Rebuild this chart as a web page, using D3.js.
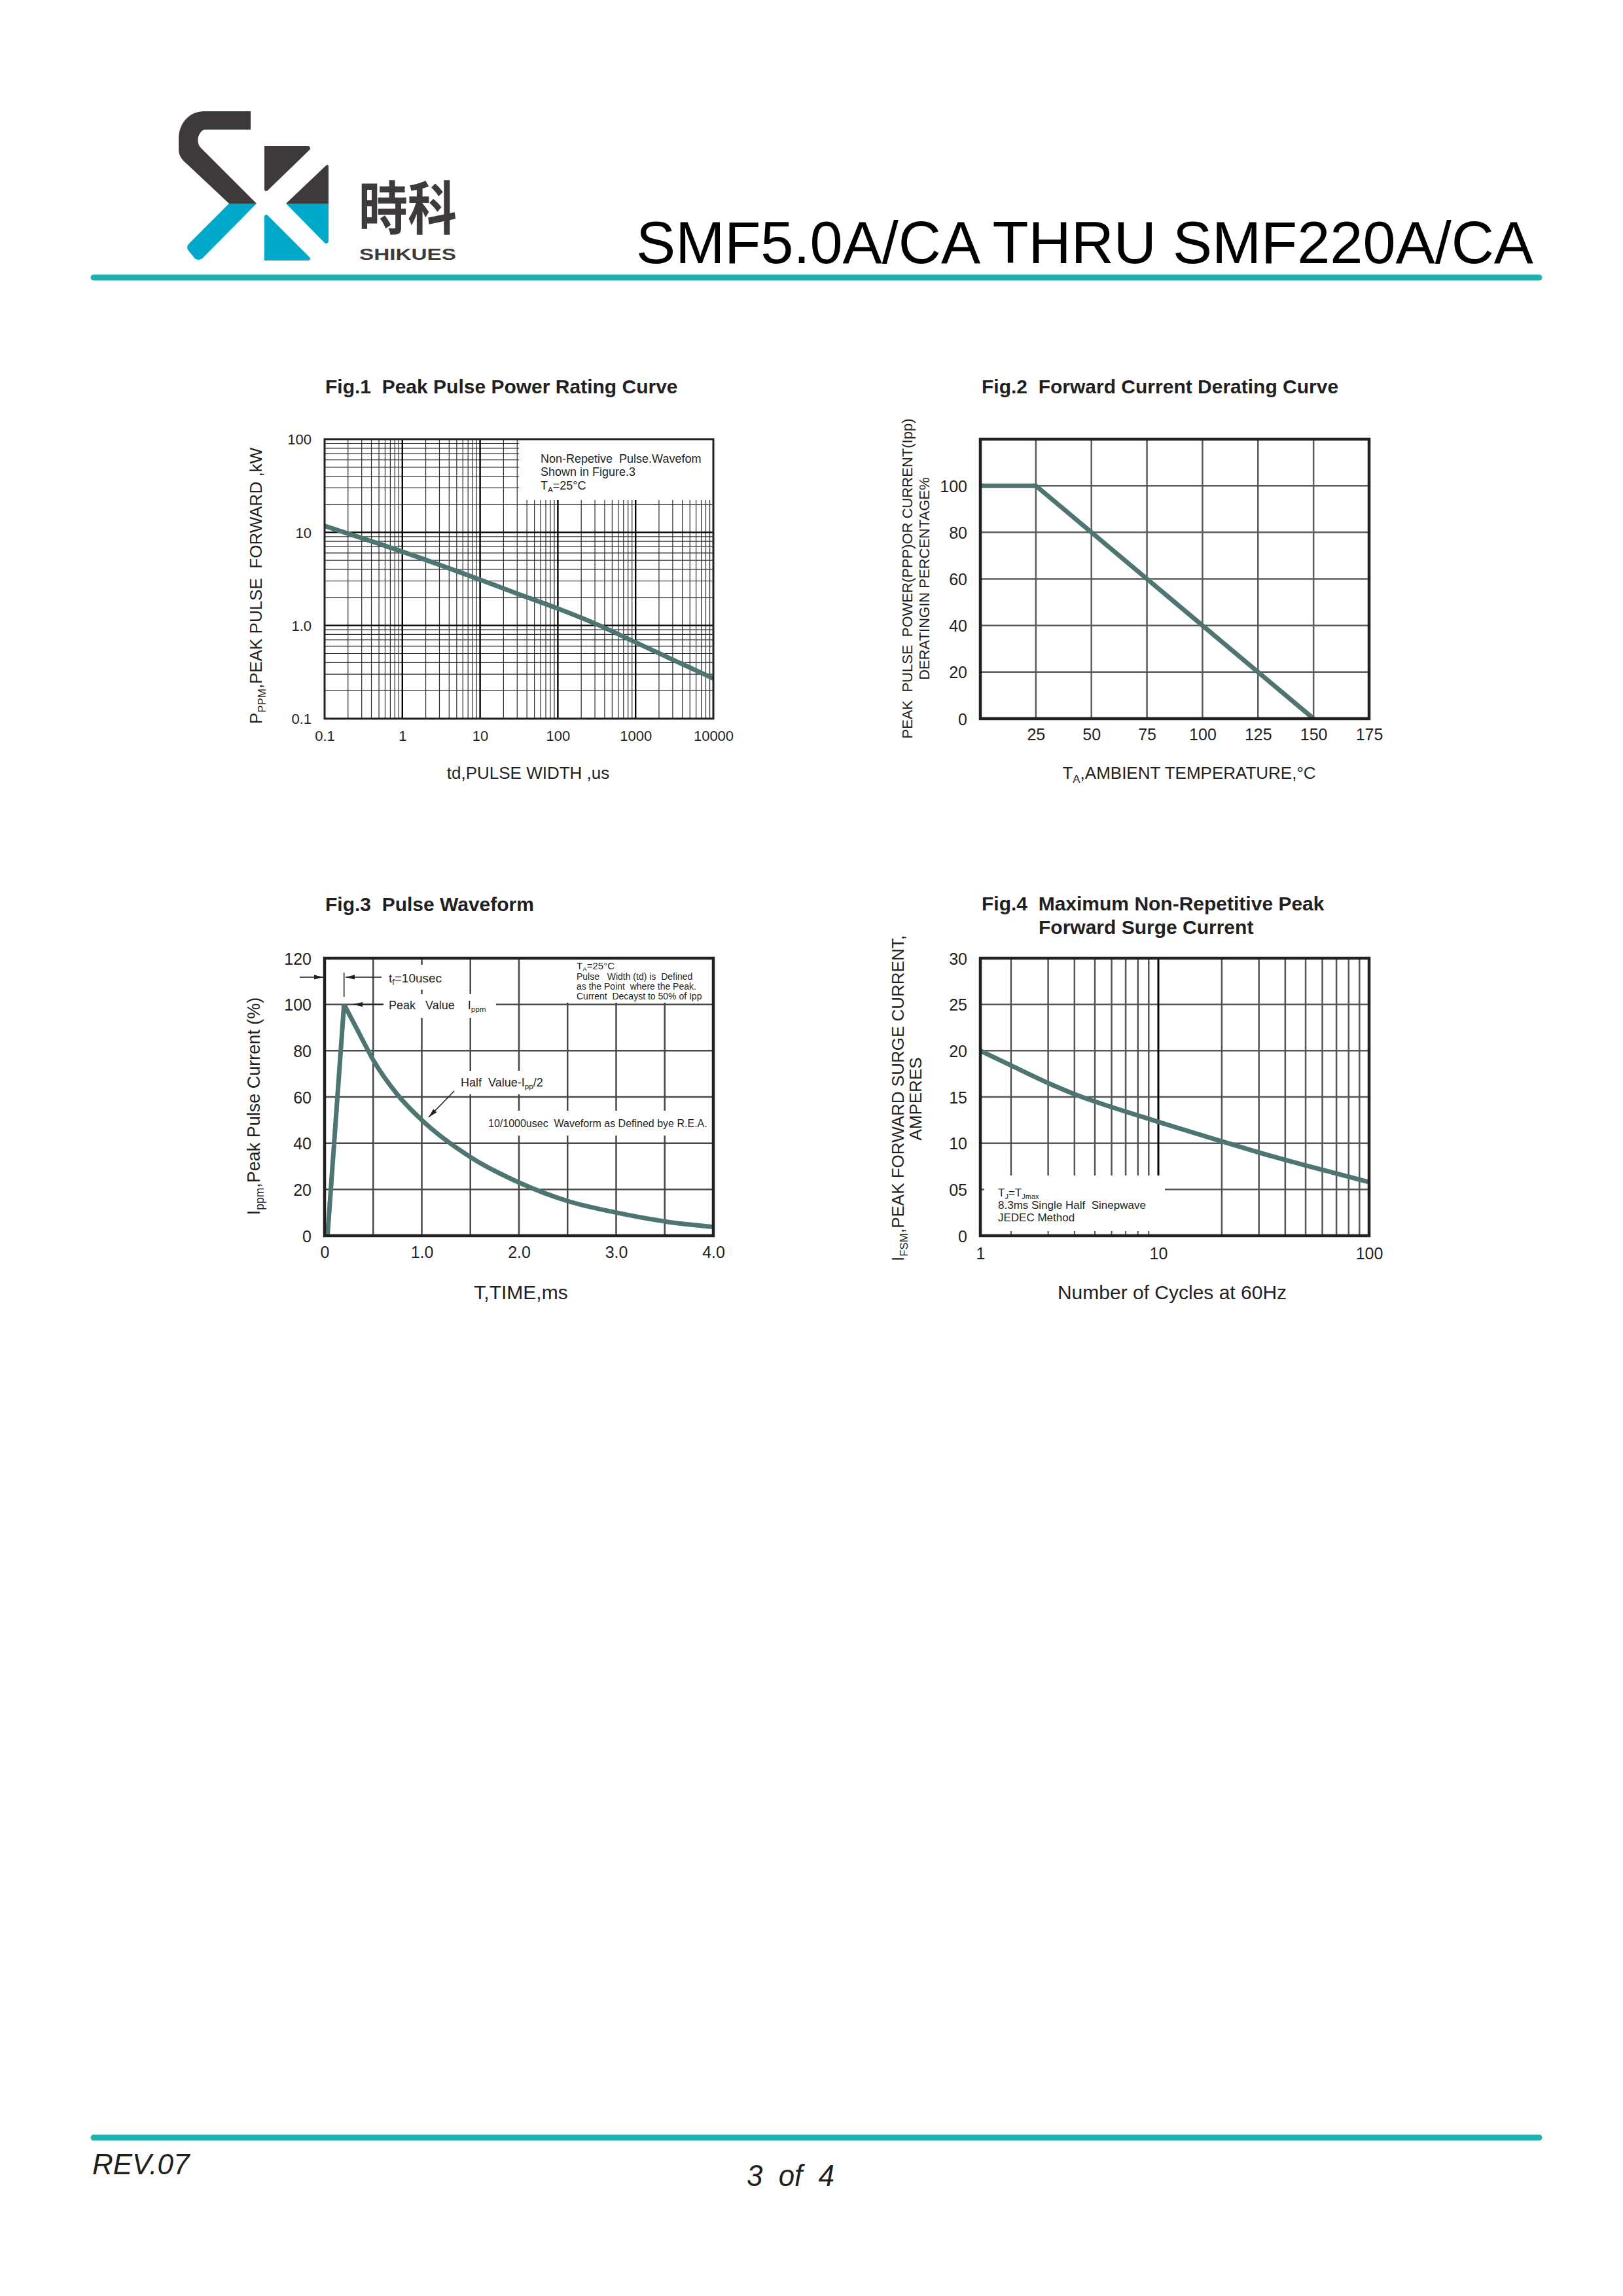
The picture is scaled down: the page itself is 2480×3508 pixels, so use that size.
<!DOCTYPE html>
<html lang="en">
<head>
<meta charset="utf-8">
<title>SMF5.0A/CA THRU SMF220A/CA - curves</title>
<script src="https://d3js.org/d3.v7.min.js"></script>
<style>
  body { margin: 0; background: #fff; }
  svg text { white-space: pre; }
</style>
</head>
<body>
<script>
// ---- values ----

// Fig.1 peak pulse power vs pulse width (log / log)
var pulseWidth = [0.1, 1, 10, 30, 100, 300, 1000, 3000, 10000];
var peakPower  = [11.7, 6.2, 3.1, 2.2, 1.52, 1.05, 0.66, 0.43, 0.27];
var fig1XTicks  = [0.1, 1, 10, 100, 1000, 10000];
var fig1XLabels = ["0.1", "1", "10", "100", "1000", "10000"];
var fig1YTicks  = [0.1, 1, 10, 100];
var fig1YLabels = ["0.1", "1.0", "10", "100"];

// Fig.2 derating
var ambientTemp = [0, 25, 150];
var deratingPct = [100, 100, 0];
var fig2XTicks = [25, 50, 75, 100, 125, 150, 175];
var fig2YTicks = [0, 20, 40, 60, 80, 100];

// Fig.3 pulse waveform
var timeMs   = [0.03, 0.2, 0.35, 0.5, 0.75, 1.0, 1.5, 2.0, 2.5, 3.0, 3.5, 4.0];
var pulsePct = [0, 100, 88, 76, 61, 50, 34, 23, 15, 10, 6.2, 3.8];
var fig3XGrid   = [0.5, 1, 1.5, 2, 2.5, 3, 3.5];
var fig3XTicks  = [0, 1, 2, 3, 4];
var fig3XLabels = ["0", "1.0", "2.0", "3.0", "4.0"];
var fig3YTicks  = [0, 20, 40, 60, 80, 100, 120];

// Fig.4 surge current vs number of cycles (left edge is labelled "1")
var cycles    = [1.43, 2, 3, 4, 5, 6, 8, 10, 20, 30, 50, 100];
var surgeAmps = [20.0, 18.4, 16.5, 15.3, 14.5, 13.9, 13.0, 12.3, 10.2, 9.0, 7.6, 5.8];
var fig4XTicks  = [1.43, 10, 100];
var fig4XLabels = ["1", "10", "100"];
var fig4YTicks  = [0, 5, 10, 15, 20, 25, 30];
var fig4YLabels = ["0", "05", "10", "15", "20", "25", "30"];

// ---- drawing ----
var font = "'Liberation Sans', Arial, Helvetica, sans-serif";
var ink = "#231f20";
var curveColor = "#4e7572";
var teal = "#1bb3b1";

var svg = d3.select("body").append("svg")
    .attr("width", 2480).attr("height", 3508)
    .attr("xml:space", "preserve")
    .style("display", "block");
svg.append("rect").attr("width", 2480).attr("height", 3508).attr("fill", "#fff");

// text with optional subscript parts: ["T", ["A"], "=25°C"]
function txt(parent, x, y, size, parts, opt) {
  opt = opt || {};
  var t = parent.append("text").attr("x", x).attr("y", y)
      .attr("font-family", opt.family || font).attr("font-size", size)
      .attr("fill", opt.fill || ink)
      .attr("text-anchor", opt.anchor || "start");
  if (opt.weight) t.attr("font-weight", opt.weight);
  if (opt.italic) t.attr("font-style", "italic");
  if (opt.rotate) t.attr("transform", "rotate(-90," + x + "," + y + ")");
  if (typeof parts === "string") parts = [parts];
  var shift = Math.round(size * 0.22), down = false;
  parts.forEach(function (p) {
    var sub = Array.isArray(p);
    var s = t.append("tspan").text(sub ? p[0] : p);
    if (sub) {
      s.attr("font-size", size * 0.65);
      if (!down) s.attr("dy", shift);
      down = true;
    } else if (down) {
      s.attr("dy", -shift);
      down = false;
    }
  });
  if (opt.length) t.attr("textLength", opt.length).attr("lengthAdjust", "spacingAndGlyphs");
  return t;
}

function arrow(g, x1, y1, x2, y2) {
  g.append("line").attr("x1", x1).attr("y1", y1).attr("x2", x2).attr("y2", y2)
    .attr("stroke", ink).attr("stroke-width", 1.6);
  var a = Math.atan2(y2 - y1, x2 - x1), L = 14, w = 3.6;
  var bx = x2 - L * Math.cos(a), by = y2 - L * Math.sin(a);
  var p = [[x2, y2], [bx + w * Math.sin(a), by - w * Math.cos(a)], [bx - w * Math.sin(a), by + w * Math.cos(a)]];
  g.append("path").attr("d", "M" + p.join("L") + "Z").attr("fill", ink);
}

function knockout(g, x0, y0, x1, y1) {
  g.append("rect").attr("x", x0).attr("y", y0).attr("width", x1 - x0).attr("height", y1 - y0).attr("fill", "#fff");
}

function vLines(g, scale, vals, b, stroke, width) {
  g.selectAll(null).data(vals).enter().append("line")
    .attr("x1", function (d) { return scale(d); }).attr("x2", function (d) { return scale(d); })
    .attr("y1", b.y).attr("y2", b.y + b.h)
    .attr("stroke", stroke).attr("stroke-width", width);
}
function hLines(g, scale, vals, b, stroke, width) {
  g.selectAll(null).data(vals).enter().append("line")
    .attr("y1", function (d) { return scale(d); }).attr("y2", function (d) { return scale(d); })
    .attr("x1", b.x).attr("x2", b.x + b.w)
    .attr("stroke", stroke).attr("stroke-width", width);
}

function bottomLabels(g, scale, vals, labels, baseline, size) {
  var ax = d3.axisBottom(scale).tickValues(vals).tickSize(0)
      .tickFormat(function (d, i) { return labels ? labels[i] : String(d); });
  var a = g.append("g").attr("transform", "translate(0," + baseline + ")").call(ax);
  a.select(".domain").remove();
  a.attr("font-family", null).attr("font-size", null);
  a.selectAll("text").attr("y", 0).attr("dy", null)
    .attr("font-family", font).attr("font-size", size).attr("fill", ink);
}
function leftLabels(g, scale, vals, labels, right, size) {
  var ax = d3.axisLeft(scale).tickValues(vals).tickSize(0)
      .tickFormat(function (d, i) { return labels ? labels[i] : String(d); });
  var a = g.append("g").attr("transform", "translate(" + right + ",0)").call(ax);
  a.select(".domain").remove();
  a.attr("font-family", null).attr("font-size", null);
  a.selectAll("text").attr("x", 0).attr("dy", "0.36em")
    .attr("font-family", font).attr("font-size", size).attr("fill", ink);
}

function clipFor(id, b) {
  svg.append("clipPath").attr("id", id).append("rect")
    .attr("x", b.x).attr("y", b.y).attr("width", b.w).attr("height", b.h);
  return "url(#" + id + ")";
}

function border(g, b, width) {
  g.append("rect").attr("x", b.x).attr("y", b.y).attr("width", b.w).attr("height", b.h)
    .attr("fill", "none").attr("stroke", ink).attr("stroke-width", width);
}

function isDecade(v) {
  var l = Math.log10(v);
  return Math.abs(l - Math.round(l)) < 1e-6;
}

// ---------------- header ----------------
var logo = svg.append("g");
var dark = "#3e3a39", cyan = "#00a9ca";
logo.append("path").attr("fill", dark)
  .attr("d", "M383,170 L312,170 C288,170 273,190 273,212 L273,228 C273,238 278,244 285,250 L350,311 L392,311 L307,226 C301,220 301,210 306,203 C308,200 310,198 314,198 L383,198 Z");
logo.append("path").attr("fill", cyan)
  .attr("d", "M350,311 L392,311 L310,394 C306,398 300,398 297,394 L288,383 C285,379 286,375 289,372 Z");
logo.append("path").attr("fill", dark)
  .attr("d", "M404,223 L470,223 C474,223 475,227 473,229 L409,291 C407,293 404,292 404,289 Z");
logo.append("path").attr("fill", dark)
  .attr("d", "M437,311 L498,253 C500,251 502,252 502,255 L502,311 Z");
logo.append("path").attr("fill", cyan)
  .attr("d", "M437,311 L502,311 L502,368 C502,372 498,373 496,371 Z");
logo.append("path").attr("fill", cyan)
  .attr("d", "M404,331 C404,328 407,327 409,329 L473,393 C475,395 474,398 471,398 L404,398 Z");
txt(logo, 548, 350, 88, "時科", { family: "'Noto Sans CJK SC', 'Noto Sans CJK JP', sans-serif", weight: "bold", fill: dark, length: 150 });
txt(logo, 549, 397, 24, "SHIKUES", { weight: "bold", fill: dark, length: 148 });

txt(svg, 972, 402, 90, "SMF5.0A/CA THRU SMF220A/CA", { fill: "#000", length: 1371 });
svg.append("line").attr("x1", 143).attr("x2", 2352).attr("y1", 424).attr("y2", 424)
  .attr("stroke", teal).attr("stroke-width", 9).attr("stroke-linecap", "round");

// ---------------- Fig.1 ----------------
var b1 = { x: 496, y: 671, w: 594, h: 427 };
var x1 = d3.scaleLog().domain([0.1, 10000]).range([b1.x, b1.x + b1.w]);
var y1 = d3.scaleLog().domain([0.1, 100]).range([b1.y + b1.h, b1.y]);
var g1 = svg.append("g");
var xt1 = x1.ticks().filter(function (d) { return d > 0.1 && d < 10000; });
var yt1 = y1.ticks().filter(function (d) { return d > 0.1 && d < 100; });
vLines(g1, x1, xt1.filter(function (d) { return !isDecade(d); }), b1, "#2a2a2a", 1.2);
hLines(g1, y1, yt1.filter(function (d) { return !isDecade(d); }), b1, "#2a2a2a", 1.2);
vLines(g1, x1, xt1.filter(isDecade), b1, "#000", 2.4);
hLines(g1, y1, yt1.filter(isDecade), b1, "#000", 2.4);
knockout(g1, 793, b1.y + 1, b1.x + b1.w - 1, 764);
txt(g1, 826, 707, 18, "Non-Repetive  Pulse.Wavefom");
txt(g1, 826, 727, 18, "Shown in Figure.3");
txt(g1, 826, 748, 18, ["T", ["A"], "=25°C"]);
g1.append("path").datum(d3.zip(pulseWidth, peakPower))
  .attr("clip-path", clipFor("c1", b1))
  .attr("fill", "none").attr("stroke", curveColor).attr("stroke-width", 7)
  .attr("d", d3.line().x(function (d) { return x1(d[0]); }).y(function (d) { return y1(d[1]); }).curve(d3.curveMonotoneX));
border(g1, b1, 3);
bottomLabels(g1, x1, fig1XTicks, fig1XLabels, 1132, 22);
leftLabels(g1, y1, fig1YTicks, fig1YLabels, 476, 22);
txt(g1, 497, 601, 30, "Fig.1  Peak Pulse Power Rating Curve", { weight: "bold" });
txt(g1, 400, 895, 26, ["P", ["PPM"], ",PEAK PULSE  FORWARD ,kW"], { anchor: "middle", rotate: true });
txt(g1, 807, 1190, 26, "td,PULSE WIDTH ,us", { anchor: "middle" });

// ---------------- Fig.2 ----------------
var b2 = { x: 1498, y: 671, w: 594, h: 427 };
var x2 = d3.scaleLinear().domain([0, 175]).range([b2.x, b2.x + b2.w]);
var y2 = d3.scaleLinear().domain([0, 120]).range([b2.y + b2.h, b2.y]);
var g2 = svg.append("g");
vLines(g2, x2, fig2XTicks.slice(0, -1), b2, "#5b5b5b", 2.5);
hLines(g2, y2, fig2YTicks.slice(1), b2, "#5b5b5b", 2.5);
g2.append("path").datum(d3.zip(ambientTemp, deratingPct))
  .attr("clip-path", clipFor("c2", b2))
  .attr("fill", "none").attr("stroke", curveColor).attr("stroke-width", 7)
  .attr("d", d3.line().x(function (d) { return x2(d[0]); }).y(function (d) { return y2(d[1]); }));
border(g2, b2, 4.5);
bottomLabels(g2, x2, fig2XTicks, null, 1131, 25);
leftLabels(g2, y2, fig2YTicks, null, 1478, 25);
txt(g2, 1500, 601, 30, "Fig.2  Forward Current Derating Curve", { weight: "bold" });
txt(g2, 1394, 884, 22, "PEAK  PULSE  POWER(PPP)OR CURRENT(Ipp)", { anchor: "middle", rotate: true });
txt(g2, 1420, 884, 22, "DERATINGIN PERCENTAGE%", { anchor: "middle", rotate: true });
txt(g2, 1817, 1190, 26, ["T", ["A"], ",AMBIENT TEMPERATURE,°C"], { anchor: "middle" });

// ---------------- Fig.3 ----------------
var b3 = { x: 496, y: 1464, w: 594, h: 424 };
var x3 = d3.scaleLinear().domain([0, 4]).range([b3.x, b3.x + b3.w]);
var y3 = d3.scaleLinear().domain([0, 120]).range([b3.y + b3.h, b3.y]);
var g3 = svg.append("g");
vLines(g3, x3, fig3XGrid, b3, "#474747", 2.5);
hLines(g3, y3, fig3YTicks.slice(1, -1), b3, "#474747", 2.5);
knockout(g3, 860, b3.y + 2, b3.x + b3.w - 2, 1532);
knockout(g3, 586, 1474, 702, 1512);
knockout(g3, 586, 1519, 758, 1555);
knockout(g3, 698, 1636, 838, 1672);
knockout(g3, 742, 1697, 1084, 1735);
txt(g3, 881, 1481, 15, ["T", ["A"], "=25°C"]);
txt(g3, 881, 1497, 14, "Pulse   Width (td) is  Defined");
txt(g3, 881, 1512, 14, "as the Point  where the Peak.");
txt(g3, 881, 1527, 14, "Current  Decayst to 50% of Ipp");
txt(g3, 594, 1501, 19, ["t", ["f"], "=10usec"]);
txt(g3, 594, 1542, 18, ["Peak   Value    I", ["ppm"]]);
txt(g3, 704, 1660, 18, ["Half  Value-I", ["pp"], "/2"]);
txt(g3, 746, 1722, 16, "10/1000usec  Waveform as Defined bye R.E.A.");
arrow(g3, 458, 1493, 494, 1493);
arrow(g3, 583, 1493, 528, 1493);
g3.append("line").attr("x1", x3(timeMs[1])).attr("x2", x3(timeMs[1])).attr("y1", 1486).attr("y2", 1523)
  .attr("stroke", ink).attr("stroke-width", 1.6);
arrow(g3, 586, y3(100), 540, y3(100));
arrow(g3, 694, 1667, 655, 1707);
var clip3 = clipFor("c3", b3);
var pts3 = d3.zip(timeMs, pulsePct);
var line3 = d3.line().x(function (d) { return x3(d[0]); }).y(function (d) { return y3(d[1]); });
g3.append("path").datum(pts3.slice(0, 2)).attr("clip-path", clip3)
  .attr("fill", "none").attr("stroke", curveColor).attr("stroke-width", 7).attr("stroke-linejoin", "round")
  .attr("d", line3);
g3.append("path").datum(pts3.slice(1)).attr("clip-path", clip3)
  .attr("fill", "none").attr("stroke", curveColor).attr("stroke-width", 7)
  .attr("d", line3.curve(d3.curveMonotoneX));
border(g3, b3, 4.5);
bottomLabels(g3, x3, fig3XTicks, fig3XLabels, 1922, 25);
leftLabels(g3, y3, fig3YTicks, null, 476, 25);
txt(g3, 497, 1392, 30, "Fig.3  Pulse Waveform", { weight: "bold" });
txt(g3, 397, 1690, 27, ["I", ["ppm"], ",Peak Pulse Current (%)"], { anchor: "middle", rotate: true });
txt(g3, 796, 1985, 30, "T,TIME,ms", { anchor: "middle" });

// ---------------- Fig.4 ----------------
var b4 = { x: 1498, y: 1464, w: 594, h: 424 };
var x4 = d3.scaleLog().domain([cycles[0], 100]).range([b4.x, b4.x + b4.w]);
var y4 = d3.scaleLinear().domain([0, 30]).range([b4.y + b4.h, b4.y]);
var g4 = svg.append("g");
var xt4 = x4.ticks().filter(function (d) { return d < 100; });
vLines(g4, x4, xt4.filter(function (d) { return !isDecade(d); }), b4, "#555", 2.5);
hLines(g4, y4, fig4YTicks.slice(1, -1), b4, "#555", 2.5);
vLines(g4, x4, xt4.filter(isDecade), b4, "#000", 3);
knockout(g4, 1504, 1796, 1780, b4.y + b4.h - 2);
g4.selectAll(null).data(xt4.filter(function (d) { return d < 10; })).enter().append("line")
  .attr("x1", function (d) { return x4(d); }).attr("x2", function (d) { return x4(d); })
  .attr("y1", b4.y + b4.h - 7).attr("y2", b4.y + b4.h)
  .attr("stroke", "#555").attr("stroke-width", 2);
txt(g4, 1525, 1828, 17, ["T", ["J"], "=T", ["Jmax"]]);
txt(g4, 1525, 1847, 17, "8.3ms Single Half  Sinepwave");
txt(g4, 1525, 1866, 17, "JEDEC Method");
g4.append("path").datum(d3.zip(cycles, surgeAmps))
  .attr("clip-path", clipFor("c4", b4))
  .attr("fill", "none").attr("stroke", curveColor).attr("stroke-width", 7)
  .attr("d", d3.line().x(function (d) { return x4(d[0]); }).y(function (d) { return y4(d[1]); }).curve(d3.curveMonotoneX));
border(g4, b4, 4.5);
bottomLabels(g4, x4, fig4XTicks, fig4XLabels, 1924, 25);
leftLabels(g4, y4, fig4YTicks, fig4YLabels, 1478, 25);
txt(g4, 1500, 1391, 30, "Fig.4  Maximum Non-Repetitive Peak", { weight: "bold" });
txt(g4, 1587, 1427, 30, "Forward Surge Current", { weight: "bold" });
txt(g4, 1381, 1678, 26, ["I", ["FSM"], ",PEAK FORWARD SURGE CURRENT,"], { anchor: "middle", rotate: true });
txt(g4, 1408, 1679, 26, "AMPERES", { anchor: "middle", rotate: true });
txt(g4, 1791, 1985, 30, "Number of Cycles at 60Hz", { anchor: "middle" });

// ---------------- footer ----------------
svg.append("line").attr("x1", 143).attr("x2", 2352).attr("y1", 3266).attr("y2", 3266)
  .attr("stroke", teal).attr("stroke-width", 9).attr("stroke-linecap", "round");
txt(svg, 141, 3322, 44, "REV.07", { italic: true });
txt(svg, 1141, 3340, 46, "3  of  4", { italic: true, length: 134 });
</script>
</body>
</html>
